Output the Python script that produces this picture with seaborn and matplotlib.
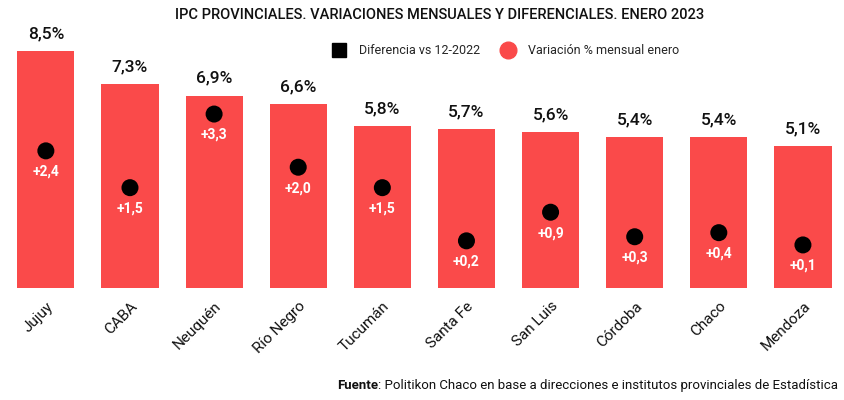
import matplotlib
matplotlib.use("Agg")
import matplotlib.pyplot as plt
import seaborn as sns
import pandas as pd
from matplotlib.lines import Line2D

provincias = ["Jujuy", "CABA", "Neuquén", "Río Negro", "Tucumán", "Santa Fe",
              "San Luis", "Córdoba", "Chaco", "Mendoza"]
variacion = [8.5, 7.3, 6.9, 6.6, 5.8, 5.7, 5.6, 5.4, 5.4, 5.1]
diferencia = [2.4, 1.5, 3.3, 2.0, 1.5, 0.2, 0.9, 0.3, 0.4, 0.1]

df = pd.DataFrame({"prov": provincias, "var": variacion, "dif": diferencia})

sns.set_theme(style="white")
plt.rcParams["font.family"] = ["Roboto", "DejaVu Sans"]

RED = "#FA4A4A"
fig = plt.figure(figsize=(8.45, 4.0), dpi=100)
ax = fig.add_axes([0.0045, 0.28, 0.9955, 0.645])

sns.barplot(data=df, x="prov", y="var", color=RED, width=0.68, ax=ax,
            saturation=1, edgecolor="none")
ax.set_xlim(-0.5, 9.5)
ax.set_ylim(0, 9.25)
ax.set_xlabel("")
ax.set_ylabel("")
ax.set_yticks([])
for s in ax.spines.values():
    s.set_visible(False)
ax.tick_params(axis="x", length=0, pad=8)
ax.set_xticks(range(len(provincias)))
ax.set_xticklabels(provincias, rotation=45, ha="right", rotation_mode="anchor",
                   fontsize=11, color="#111111")

for i, v in enumerate(variacion):
    ax.annotate(f"{v:.1f}".replace(".", ",") + "%", (i, v), xytext=(0, 7),
                textcoords="offset points", ha="center", va="bottom",
                fontsize=12.5, fontweight="medium", color="#111111")

ax2 = ax.twinx()
sns.scatterplot(data=df, x="prov", y="dif", color="black", s=150,
                edgecolor="none", ax=ax2, zorder=5)
ax2.set_ylim(-0.953, 5.355)
ax2.set_xlim(-0.5, 9.5)
ax2.set_yticks([])
ax2.set_ylabel("")
for s in ax2.spines.values():
    s.set_visible(False)
for i, d in enumerate(diferencia):
    ax2.annotate("+" + f"{d:.1f}".replace(".", ","), (i, d), xytext=(0, -10),
                 textcoords="offset points", ha="center", va="top",
                 fontsize=10, fontweight="bold", color="white")

fig.text(0.52, 0.962, "IPC PROVINCIALES. VARIACIONES MENSUALES Y DIFERENCIALES. ENERO 2023",
         ha="center", va="center", fontsize=10.5, fontweight="medium", color="#111111")

handles = [Line2D([], [], marker="s", color="black", linestyle="none", markersize=10),
           Line2D([], [], marker="o", color=RED, linestyle="none", markersize=12)]
fig.legend(handles, ["Diferencia vs 12-2022", "Variación % mensual enero"],
           loc="center", bbox_to_anchor=(0.595, 0.873), ncol=2, frameon=False,
           fontsize=9, handletextpad=0.6, columnspacing=1.2)

t2 = fig.text(0.992, 0.037, ": Politikon Chaco en base a direcciones e institutos provinciales de Estadística",
              ha="right", va="center", fontsize=9.5, color="#111111")
fig.canvas.draw()
bb = t2.get_window_extent()
x0 = bb.x0 / fig.bbox.width
fig.text(x0, 0.037, "Fuente", ha="right", va="center", fontsize=9.5,
         fontweight="bold", color="#111111")

fig.savefig("out.png", dpi=100)
